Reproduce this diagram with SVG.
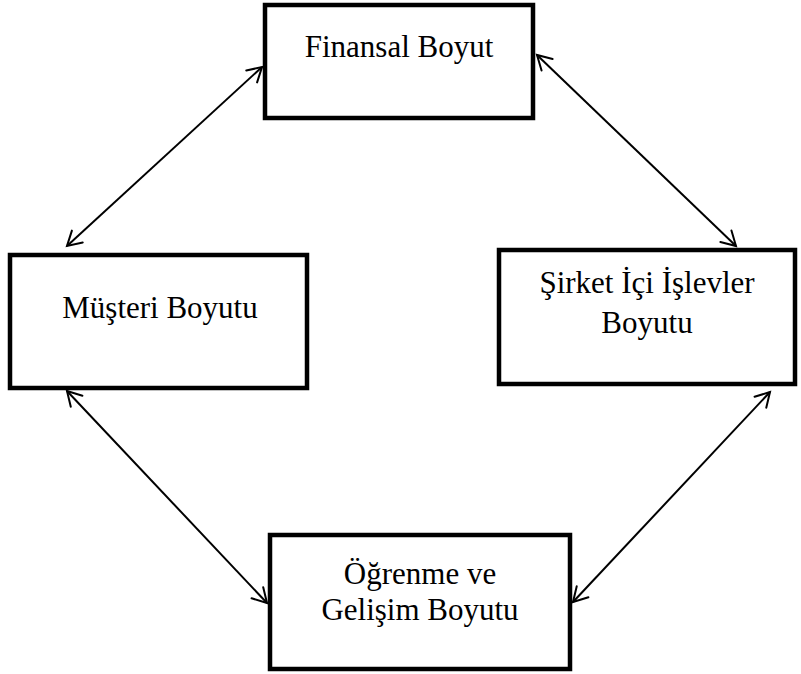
<svg xmlns="http://www.w3.org/2000/svg" width="801" height="674" viewBox="0 0 801 674">
  <style>
    .box { fill: #ffffff; stroke: #000000; stroke-width: 4.5; }
    .label { font-family: "Liberation Serif", "Times New Roman", serif; font-size: 31px; fill: #000000; text-anchor: middle; }
    .link { fill: none; stroke: #000000; stroke-width: 2; marker-start: url(#head); marker-end: url(#head); }
  </style>
  <defs>
    <!-- open V arrowhead, used at both ends of every link -->
    <marker id="head" markerUnits="userSpaceOnUse" viewBox="-16 -10 18 20" refX="0" refY="0" markerWidth="18" markerHeight="20" orient="auto-start-reverse" overflow="visible">
      <path d="M-14,-8 L0,0 L-14,8" fill="none" stroke="#000000" stroke-width="2" stroke-linecap="round" stroke-linejoin="miter"/>
    </marker>
  </defs>
  <rect width="801" height="674" fill="#ffffff"/>

  <g id="connectors">
    <line class="link" x1="67" y1="246" x2="262" y2="67"/>
    <line class="link" x1="537" y1="55" x2="736" y2="246"/>
    <line class="link" x1="67" y1="391" x2="267" y2="603"/>
    <line class="link" x1="770" y1="392" x2="573" y2="602"/>
  </g>

  <g id="finansal">
    <rect class="box" x="265" y="5" width="268" height="113"/>
    <text class="label" x="399" y="57">Finansal Boyut</text>
  </g>

  <g id="musteri">
    <rect class="box" x="10" y="255" width="297" height="133"/>
    <text class="label" x="160" y="318">Müşteri Boyutu</text>
  </g>

  <g id="sirket-ici">
    <rect class="box" x="499" y="250" width="296" height="134"/>
    <text class="label" x="647" y="293">Şirket İçi İşlevler</text>
    <text class="label" x="647" y="333">Boyutu</text>
  </g>

  <g id="ogrenme">
    <rect class="box" x="270" y="535" width="300" height="134"/>
    <text class="label" x="420" y="584">Öğrenme ve</text>
    <text class="label" x="420" y="620">Gelişim Boyutu</text>
  </g>
</svg>
